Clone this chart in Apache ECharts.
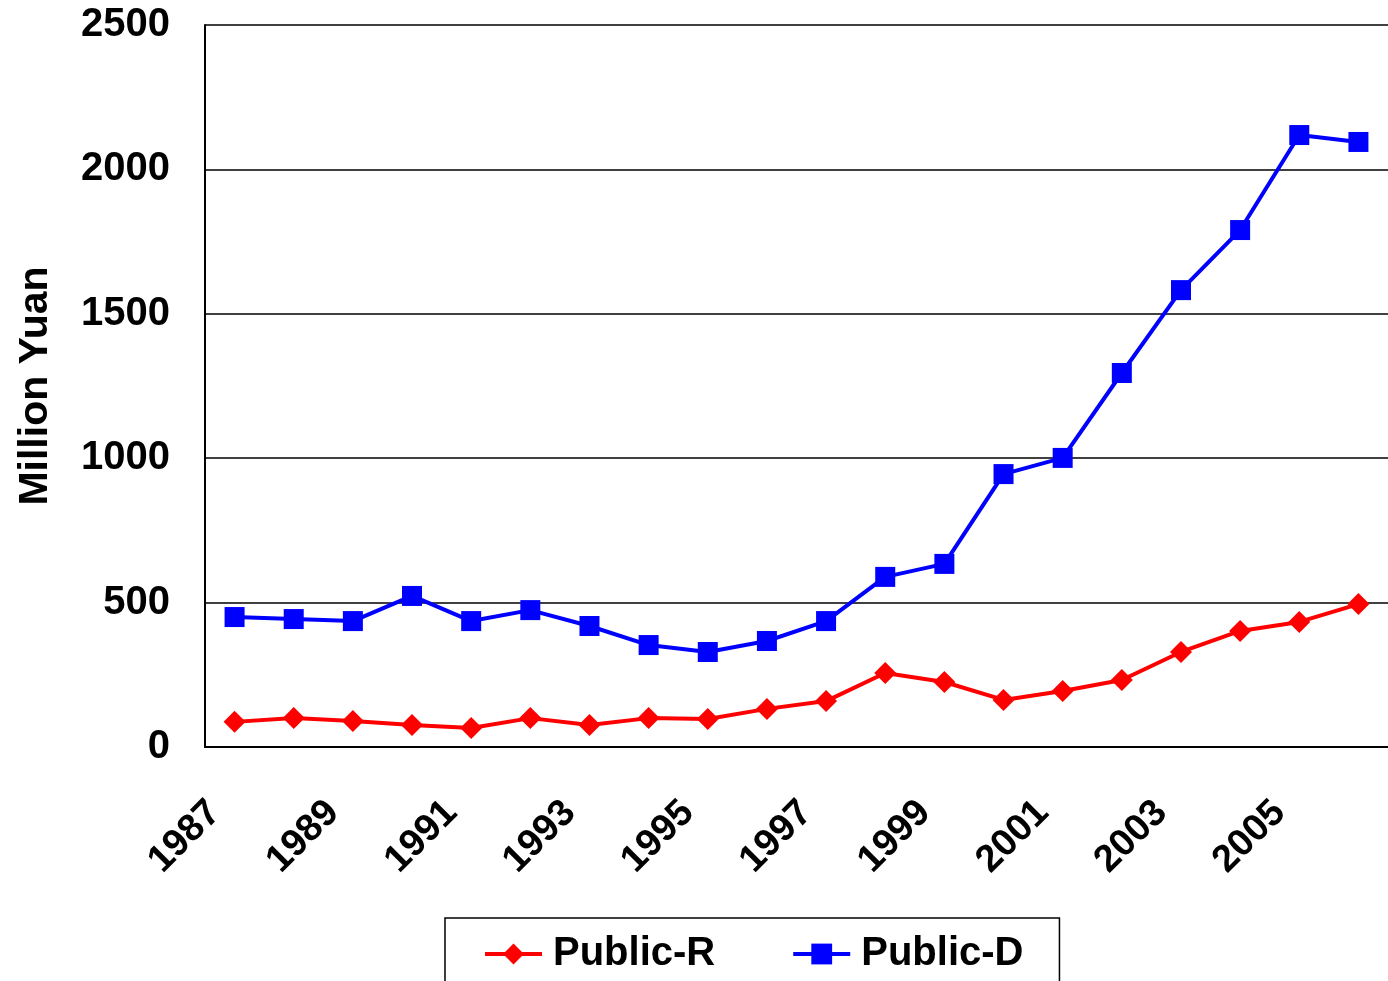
<!DOCTYPE html>
<html><head><meta charset="utf-8">
<script src="https://cdn.jsdelivr.net/npm/echarts@6/dist/echarts.min.js"></script>
<style>html,body{margin:0;padding:0;background:#fff}#c{width:1388px;height:981px}</style>
</head><body><div id="c"></div>
<script>
const years = ['1987','1988','1989','1990','1991','1992','1993','1994','1995','1996','1997','1998','1999','2000','2001','2002','2003','2004','2005','2006'];
const publicR = [87,100,90,76,66,100,76,100,97,132,159,256,225,163,194,232,329,402,433,495];
const publicD = [450,443,436,523,436,474,419,353,329,367,436,589,634,945,1001,1295,1582,1790,2119,2095];
const yTicks = [0,500,1000,1500,2000,2500];

const chart = echarts.init(document.getElementById('c'));
const font = 'Arial, "Liberation Sans", sans-serif';
chart.setOption({
  animation:false,
  grid:{left:205,right:0,top:25,bottom:234,outerBoundsMode:'none',containLabel:false},
  legend:{
    data:['Public-R','Public-D'],
    top:918, left:445,
    borderColor:'#000', borderWidth:1.5,
    padding:[16,36,36,38],
    itemGap:76, itemWidth:57, itemHeight:26,
    lineStyle:{width:4},
    textStyle:{fontFamily:font,fontWeight:'bold',fontSize:40,color:'#000',padding:[0,0,0,6]}
  },
  xAxis:{
    type:'category', data:years, boundaryGap:true,
    axisLine:{lineStyle:{color:'#000',width:2}},
    axisTick:{inside:true,length:12,lineStyle:{color:'#000',width:1.5}},
    axisLabel:{rotate:45,interval:1,margin:40,padding:[0,28,0,0],fontFamily:font,fontWeight:'bold',fontSize:38,color:'#000'}
  },
  yAxis:{
    type:'value', min:0, max:2500, interval:500,
    name:'Million Yuan', nameLocation:'middle', nameGap:149, nameRotate:90,
    nameTextStyle:{fontFamily:font,fontWeight:'bold',fontSize:41,color:'#000'},
    axisLine:{show:true,lineStyle:{color:'#000',width:2}},
    axisTick:{show:false},
    splitLine:{lineStyle:{color:'#000',width:1.5}},
    axisLabel:{margin:35,fontFamily:font,fontWeight:'bold',fontSize:40,color:'#000',
      formatter:function(v){return yTicks.indexOf(v)>=0?String(v):'';}}
  },
  series:[
    {name:'Public-R',type:'line',data:publicR,color:'#ff0000',symbol:'diamond',symbolSize:22,
     lineStyle:{width:4,color:'#ff0000'},itemStyle:{color:'#ff0000'}},
    {name:'Public-D',type:'line',data:publicD,color:'#0000ff',symbol:'rect',symbolSize:20,
     lineStyle:{width:4,color:'#0000ff'},itemStyle:{color:'#0000ff'}}
  ]
});
</script></body></html>
